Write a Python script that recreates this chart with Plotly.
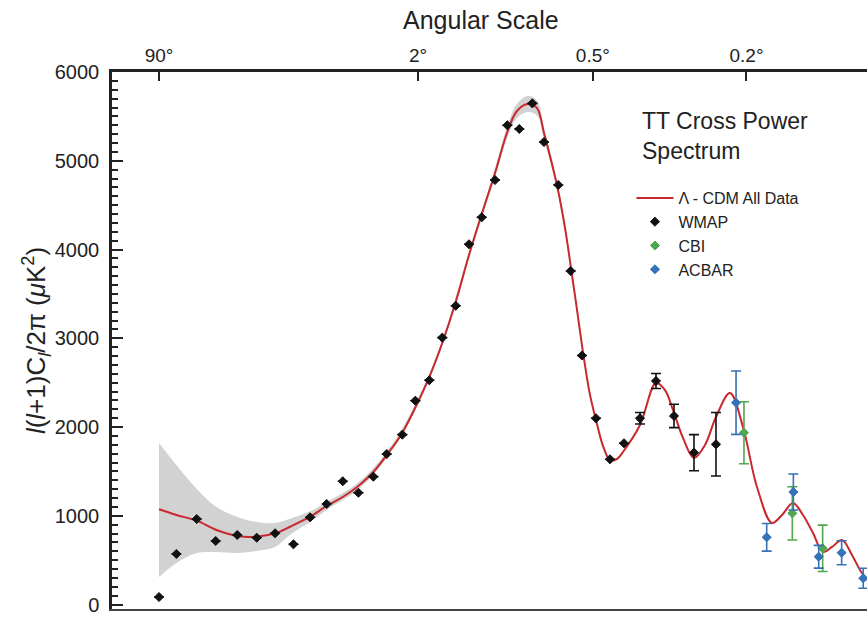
import plotly.graph_objects as go

# ---- data (multipole l, D_l = l(l+1)C_l/2pi in uK^2) ----
wmap_l = [2, 3, 4.6, 6.6, 9.6, 13.1, 17.2, 22.2, 27.6, 33.9, 41.0, 48.9, 57.5, 66.1,
          77.3, 87.7, 100, 112.5, 126.7, 142, 157.9, 175.9, 193.9, 212.7, 234.7,
          255.8, 283.6, 309.5, 334.5, 367.6, 403.2, 441.2, 488, 538.3, 599.5, 673.4, 762.4]
wmap_d = [85, 570, 964, 716, 784, 753, 803, 679, 983, 1133, 1389, 1260, 1441, 1696,
          1914, 2297, 2527, 3007, 3366, 4059, 4363, 4783, 5400, 5358, 5647,
          5211, 4727, 3758, 2806, 2099, 1637, 1817, 2099, 2519, 2125, 1711, 1806]
wmap_err = [0] * 32 + [64, 85, 132, 203, 357]

cbi_l = [888, 1141, 1325]
cbi_d = [1936, 1028, 634]
cbi_err = [349, 300, 261]

acbar_l = [851, 1001, 1147, 1300, 1451, 1605]
acbar_d = [2274, 758, 1268, 539, 584, 296]
acbar_err = [357, 156, 203, 128, 135, 113]

model_l = [2, 3, 4.6, 6.7, 9.6, 13.1, 17.2, 21.2, 27.6, 33.9, 41.0, 48.9, 57.5, 66.1, 76.8,
           88.3, 100, 112.5, 126.7, 142, 157.9, 175.9, 193.9, 209, 227.2, 243, 255.8,
           269.1, 283, 297.4, 310.1, 323.3, 336.8, 353.2, 370.1, 385.1, 403.2, 421.9,
           438.4, 488, 538.3, 568.3, 596, 632, 673.4, 716.9, 762.4, 823.5, 883.4, 951.5,
           1028.8, 1082.9, 1144.8, 1203.4, 1264.2, 1327.2, 1385.9, 1453.5, 1523.4,
           1581.1, 1633]
model_d = [1073, 1009, 945, 840, 773, 765, 803, 877, 990, 1111, 1212, 1336, 1494, 1685, 1922,
           2237, 2564, 2947, 3409, 3938, 4400, 4862, 5324, 5561, 5639, 5594, 5313,
           5009, 4671, 4243, 3792, 3319, 2846, 2362, 2035, 1787, 1629, 1640,
           1719, 2023, 2496, 2417, 2192, 1877, 1651, 1798, 2113, 2384, 2001, 1325,
           919, 1009, 1144, 1009, 806, 592, 649, 727, 559,
           390, 277]

band_l = [2, 3, 4.6, 6.7, 9.6, 13.1, 17.2, 21.2, 27.6, 33.9, 48.9, 66.1, 88.3, 112.5,
          142, 175.9, 193.9, 209, 227.2, 243, 255.8, 283, 310.1]
band_hi = [1820, 1572, 1302, 1099, 987, 930, 919, 967, 1050, 1156, 1376, 1720, 2272, 2982,
           3978, 4912, 5389, 5641, 5729, 5679, 5378, 4711, 3822]
band_lo = [311, 468, 581, 592, 581, 604, 649, 787, 930, 1066, 1296, 1650, 2202, 2912,
           3898, 4812, 5259, 5481, 5549, 5509, 5248, 4631, 3762]

angle_deg = [90, 2, 0.5, 0.2]
angle_txt = ["90°", "2°", "0.5°", "0.2°"]

# multipole axis is drawn on an l^(1/4) scale
P = 0.25
def sc(v):
    return [x ** P for x in v]

tick_pos = sc([180.0 / a for a in angle_deg])
XR = [0.846, 6.357]

RED = "#c8282e"
INK = "#222222"
FONT = "Liberation Sans, Arial, sans-serif"

fig = go.Figure()

fig.add_trace(go.Scatter(x=sc(band_l), y=band_lo, mode="lines", line=dict(width=0, shape="spline"),
                         showlegend=False, hoverinfo="skip"))
fig.add_trace(go.Scatter(x=sc(band_l), y=band_hi, mode="lines", line=dict(width=0, shape="spline"),
                         fill="tonexty", fillcolor="#d2d2d2", showlegend=False, hoverinfo="skip"))

fig.add_trace(go.Scatter(x=sc(model_l), y=model_d, mode="lines", name="Λ - CDM All Data",
                         line=dict(color=RED, width=2, shape="spline", smoothing=1.0)))

def pts(lv, dv, ev, color, name):
    return go.Scatter(x=sc(lv), y=dv, mode="markers", name=name,
                      marker=dict(symbol="diamond", size=7, color=color,
                                  line=dict(color=color, width=1)),
                      error_y=dict(type="data", array=ev, visible=True, color=color,
                                   thickness=1.6, width=5))

fig.add_trace(pts(wmap_l, wmap_d, wmap_err, "#111111", "WMAP"))
fig.add_trace(pts(cbi_l, cbi_d, cbi_err, "#4fa84f", "CBI"))
fig.add_trace(pts(acbar_l, acbar_d, acbar_err, "#3572b8", "ACBAR"))

fig.update_layout(
    width=867, height=624,
    margin=dict(l=112, r=0, t=72, b=15),
    paper_bgcolor="white", plot_bgcolor="white",
    font=dict(family=FONT, color=INK),
    showlegend=True,
    legend=dict(x=0.688, y=0.797, xanchor="left", yanchor="top", traceorder="normal",
                font=dict(size=16, color=INK), itemwidth=37,
                bgcolor="rgba(0,0,0,0)"),
    xaxis=dict(side="top", range=XR, showgrid=False, zeroline=False, automargin=False,
               showline=True, linecolor=INK, linewidth=2.5,
               ticks="inside", ticklen=9, tickwidth=2, tickcolor=INK,
               tickvals=tick_pos, ticktext=angle_txt,
               tickfont=dict(size=19, color=INK)),
    yaxis=dict(range=[-50, 6000], showgrid=False, zeroline=False, automargin=False,
               showline=True, linecolor=INK, linewidth=2.5,
               ticks="inside", ticklen=11, tickwidth=2, tickcolor=INK,
               tickvals=[0, 1000, 2000, 3000, 4000, 5000, 6000],
               tickfont=dict(size=20, color=INK), ticklabelstandoff=6,
               minor=dict(ticks="inside", dtick=100, ticklen=6, tickwidth=2,
                          tickcolor=INK),
               title=dict(text="<i>l</i>(<i>l</i>+1)C<sub><i>l</i></sub>/2π (<i>μ</i>K<sup>2</sup>)",
                          font=dict(size=26, color=INK), standoff=1)),
    xaxis2=dict(overlaying="x", side="bottom", range=XR, showgrid=False, automargin=False,
                zeroline=False, showline=True, linecolor="#444444", linewidth=2,
                showticklabels=False, ticks=""),
)

fig.add_annotation(text="Angular Scale", xref="paper", yref="paper", x=0.489, y=1.0,
                   yshift=52, xanchor="center", yanchor="middle", showarrow=False,
                   font=dict(size=25, color=INK))
fig.add_annotation(text="TT Cross Power<br>Spectrum", xref="paper", yref="paper",
                   x=0.699, y=0.88, xanchor="left", yanchor="middle", align="left",
                   showarrow=False, font=dict(size=23, color=INK))

# dummy trace so the bottom axis line is drawn
fig.add_trace(go.Scatter(x=[None], y=[None], xaxis="x2", showlegend=False))

fig.write_html("out.html", config={"displayModeBar": False},
               post_script="document.body.style.margin='0';")
